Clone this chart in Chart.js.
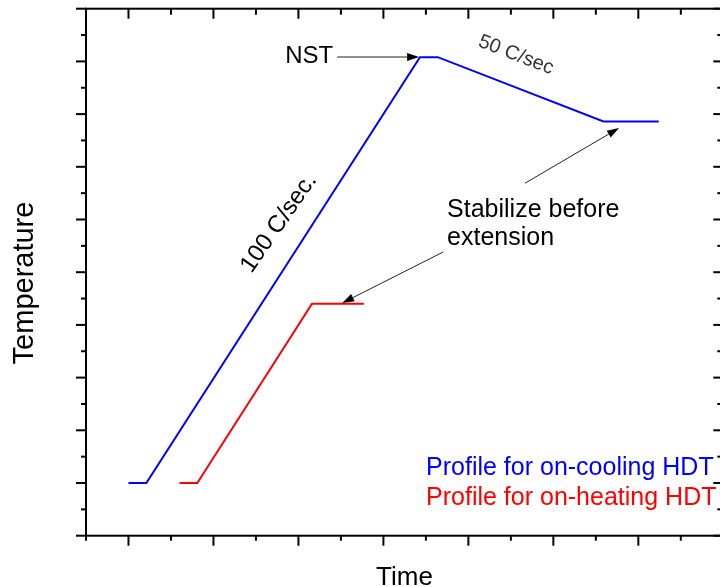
<!DOCTYPE html>
<html>
<head>
<meta charset="utf-8">
<script src="https://cdn.jsdelivr.net/npm/chart.js@4.4.0/dist/chart.umd.min.js"></script>
<style>
  html, body { margin: 0; padding: 0; background: #fff; overflow: hidden; }
  #wrap { width: 730px; height: 587px; }
</style>
</head>
<body>
<div id="wrap"><canvas id="profileChart" width="730" height="587"></canvas></div>
<script>
// Temperature profiles (arbitrary units)

const coolingTime = [0, 0.21, 3.43, 3.64, 5.59, 6.24];
const coolingTemp = [1.0, 1.0, 9.08, 9.08, 7.86, 7.86];

const heatingTime = [0.6, 0.81, 2.16, 2.77];
const heatingTemp = [1.0, 1.0, 4.4, 4.4];

// tick positions (no labels in the original)
const xMajorTicks = [0, 1, 2, 3, 4, 5, 6, 7];
const xMinorTicks = [-0.5, 0.5, 1.5, 2.5, 3.5, 4.5, 5.5, 6.5];
const yMajorTicks = [0, 1, 2, 3, 4, 5, 6, 7, 8, 9, 10];
const yMinorTicks = [0.5, 1.5, 2.5, 3.5, 4.5, 5.5, 6.5, 7.5, 8.5, 9.5];

const seriesLabels = ['Profile for on-cooling HDT', 'Profile for on-heating HDT'];

const FONT = '"Liberation Sans", Arial, sans-serif';

function toPoints(xs, ys)
{
  return xs.map((x, i) => ({ x: x, y: ys[i] }));
}

function arrow(ctx, x1, y1, x2, y2)
{
  const ang = Math.atan2(y2 - y1, x2 - x1);
  const len = 12, half = 4;
  ctx.beginPath();
  ctx.moveTo(x1, y1);
  ctx.lineTo(x2 - len * Math.cos(ang), y2 - len * Math.sin(ang));
  ctx.stroke();
  ctx.beginPath();
  ctx.moveTo(x2, y2);
  ctx.lineTo(x2 - len * Math.cos(ang) + half * Math.sin(ang), y2 - len * Math.sin(ang) - half * Math.cos(ang));
  ctx.lineTo(x2 - len * Math.cos(ang) - half * Math.sin(ang), y2 - len * Math.sin(ang) + half * Math.cos(ang));
  ctx.closePath();
  ctx.fill();
}

// Origin-style frame: outward ticks left/bottom, inward ticks top/right
const framePlugin = {
  id: 'frame',
  afterDraw(chart)
  {
    const ctx = chart.ctx;
    const xs = chart.scales.x, ys = chart.scales.y;
    const a = chart.chartArea;
    ctx.save();
    ctx.strokeStyle = '#000';
    ctx.lineWidth = 2;
    ctx.lineCap = 'butt';

    ctx.strokeRect(a.left, a.top, a.right - a.left, a.bottom - a.top);

    const tick = (x1, y1, x2, y2) => { ctx.beginPath(); ctx.moveTo(x1, y1); ctx.lineTo(x2, y2); ctx.stroke(); };

    xMajorTicks.forEach(v => {
      const px = xs.getPixelForValue(v);
      tick(px, a.bottom, px, a.bottom + 10);
      tick(px, a.top, px, a.top + 10);
    });
    xMinorTicks.forEach(v => {
      const px = xs.getPixelForValue(v);
      tick(px, a.bottom, px, a.bottom + 5);
      tick(px, a.top, px, a.top + 6);
    });
    yMajorTicks.forEach(v => {
      const py = ys.getPixelForValue(v);
      tick(a.left, py, a.left - 10, py);
      tick(a.right, py, a.right - 10, py);
    });
    yMinorTicks.forEach(v => {
      const py = ys.getPixelForValue(v);
      tick(a.left, py, a.left - 5, py);
      tick(a.right, py, a.right - 6, py);
    });

    // axis titles
    ctx.fillStyle = '#000';
    ctx.font = '26px ' + FONT;
    ctx.textAlign = 'center';
    ctx.textBaseline = 'alphabetic';
    ctx.fillText('Time', (a.left + 723) / 2, 585);
    ctx.save();
    ctx.translate(33, 283);
    ctx.rotate(-Math.PI / 2);
    ctx.font = '29px ' + FONT;
    ctx.fillText('Temperature', 0, 0);
    ctx.restore();

    // annotations
    const X = v => xs.getPixelForValue(v);
    const Y = v => ys.getPixelForValue(v);

    ctx.font = '24px ' + FONT;
    ctx.textAlign = 'left';
    ctx.fillText('NST', X(1.844), Y(8.962));
    ctx.font = '25px ' + FONT;
    ctx.fillText('Stabilize before', X(3.749), Y(6.047));
    ctx.fillText('extension', X(3.749), Y(5.512));

    ctx.save();
    ctx.translate(X(4.56), Y(9.12));
    ctx.rotate(21 * Math.PI / 180);
    ctx.textAlign = 'center';
    ctx.textBaseline = 'middle';
    ctx.fillStyle = '#333';
    ctx.font = '20px ' + FONT;
    ctx.fillText('50 C/sec', 0, 0);
    ctx.restore();

    ctx.save();
    ctx.translate(X(1.77), Y(5.93));
    ctx.rotate(-55 * Math.PI / 180);
    ctx.textAlign = 'center';
    ctx.textBaseline = 'middle';
    ctx.font = '24px ' + FONT;
    ctx.fillText('100 C/sec.', 0, 0);
    ctx.restore();

    ctx.strokeStyle = '#222';
    ctx.fillStyle = '#000';
    ctx.lineWidth = 1;
    arrow(ctx, X(2.455), Y(9.083), X(3.42), Y(9.083));
    arrow(ctx, X(4.667), Y(6.689), X(5.773), Y(7.735));
    arrow(ctx, X(3.703), Y(5.383), X(2.515), Y(4.415));

    // legend as coloured text
    ctx.font = '25px ' + FONT;
    ctx.fillStyle = '#0000ff';
    ctx.fillText(seriesLabels[0], X(3.502), Y(1.146));
    ctx.fillStyle = '#ff0000';
    ctx.fillText(seriesLabels[1], X(3.502), Y(0.583));

    ctx.restore();
  }
};

const ctx = document.getElementById('profileChart');

new Chart(ctx, {
  type: 'line',
  data: {
    datasets: [
      {
        label: seriesLabels[0],
        data: toPoints(coolingTime, coolingTemp),
        borderColor: '#0000ff',
        borderWidth: 2,
        pointRadius: 0,
        tension: 0
      },
      {
        label: seriesLabels[1],
        data: toPoints(heatingTime, heatingTemp),
        borderColor: '#ff0000',
        borderWidth: 2,
        pointRadius: 0,
        tension: 0
      }
    ]
  },
  options: {
    responsive: false,
    animation: false,
    layout: {
      padding: { left: 86, right: 6.7, top: 8.7, bottom: 51.3 }
    },
    scales: {
      x: { type: 'linear', min: -0.5, max: 7, display: false },
      y: { type: 'linear', min: 0, max: 10, display: false }
    },
    plugins: {
      legend: { display: false },
      tooltip: { enabled: false }
    }
  },
  plugins: [framePlugin]
});
</script>
</body>
</html>
